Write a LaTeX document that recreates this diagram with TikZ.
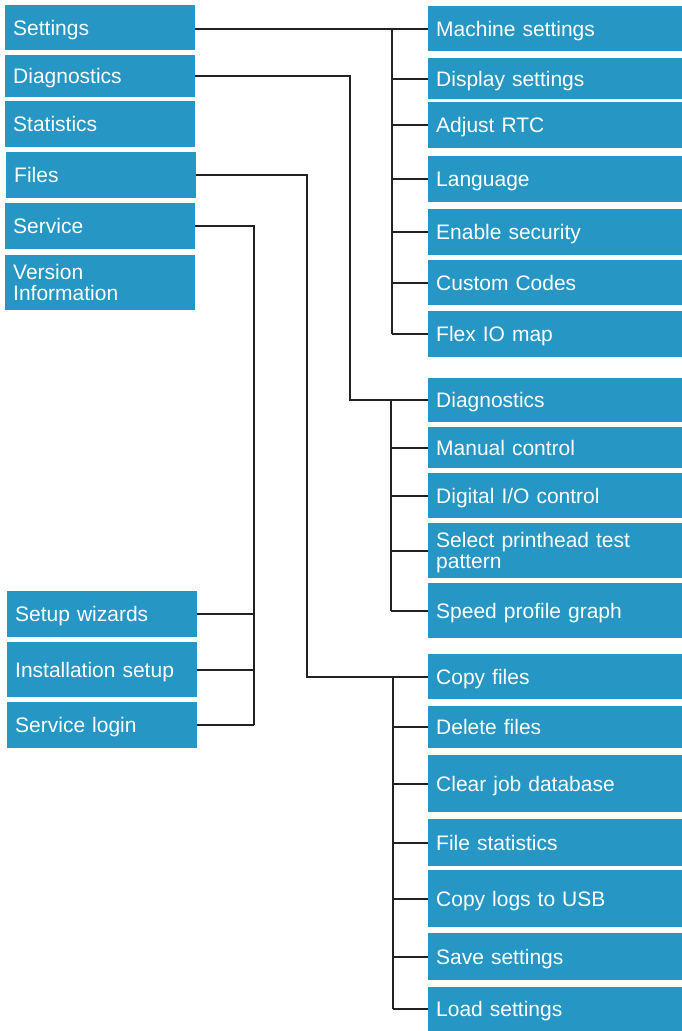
\documentclass[tikz,border=0pt]{standalone}
\usepackage{fontspec}
\setmainfont{Liberation Sans}
\definecolor{boxblue}{RGB}{38,150,196}
\definecolor{linegray}{RGB}{34,34,34}
\newcommand\sTop{\rule{0pt}{19.5pt}}
\newcommand\sBot{\rule[-4.5pt]{0pt}{4.5pt}}
\newcommand\bx[6]{%
  \pgfmathsetmacro\bxW{#4-#2}%
  \pgfmathsetmacro\bxH{#5-#3}%
  \pgfmathsetmacro\bxT{#4-#2-16}%
  \node[box,minimum width=\bxW pt,minimum height=\bxH pt,text width=\bxT pt,anchor=north west] (#1) at (#2pt,-#3pt) {#6};}
\begin{document}
\begin{tikzpicture}[
  box/.style={fill=boxblue,text=white,inner xsep=8pt,inner ysep=0pt,align=left,
    font=\fontsize{21}{21}\selectfont,
    execute at begin node=\sTop, execute at end node=\sBot},
  conn/.style={draw=linegray,line width=2.4pt}
]
\fill[white] (0,0) rectangle (682pt,-1031pt);
\useasboundingbox (0,0) rectangle (682pt,-1031pt);
% left column
\bx{settings}{5}{5}{195}{50}{Settings}
\bx{ldiag}{5}{55}{195}{97}{Diagnostics}
\bx{stats}{5}{101}{195}{147}{Statistics}
\bx{files}{6}{152}{196}{198}{Files}
\bx{service}{5}{203}{195}{249}{Service}
\bx{version}{5}{255}{195}{310}{Version\\Information}
\bx{setup}{7}{591}{197}{637}{Setup wizards}
\bx{install}{7}{642}{197}{697}{Installation setup}
\bx{login}{7}{702}{197}{748}{Service login}
% right column: settings
\bx{machine}{428}{6}{682}{51}{Machine settings}
\bx{display}{428}{58}{682}{99}{Display settings}
\bx{rtc}{428}{102}{682}{148}{Adjust RTC}
\bx{lang}{428}{156}{682}{202}{Language}
\bx{security}{428}{209}{682}{255}{Enable security}
\bx{codes}{428}{260}{682}{305}{Custom Codes}
\bx{flex}{428}{311}{682}{357}{Flex IO map}
% right column: diagnostics
\bx{rdiag}{428}{378}{682}{422}{Diagnostics}
\bx{manual}{428}{427}{682}{468}{Manual control}
\bx{digital}{428}{473}{682}{518}{Digital I/O control}
\bx{select}{428}{523}{682}{578}{Select printhead test\\pattern}
\bx{speed}{428}{583}{682}{638}{Speed profile graph}
% right column: files
\bx{copy}{428}{654}{682}{699}{Copy files}
\bx{delete}{428}{706}{682}{748}{Delete files}
\bx{clear}{428}{755}{682}{812}{Clear job database}
\bx{fstat}{428}{819}{682}{866}{File statistics}
\bx{logs}{428}{870}{682}{927}{Copy logs to USB}
\bx{save}{428}{933}{682}{980}{Save settings}
\bx{load}{428}{987}{682}{1031}{Load settings}
% bus coordinates
\coordinate (busS) at (392pt,0);
\coordinate (busD) at (391pt,0);
\coordinate (busF) at (393pt,0);
\coordinate (jogD) at (350pt,0);
\coordinate (jogF) at (307pt,0);
\coordinate (jogV) at (254pt,0);
% settings group
\draw[conn] (settings.east |- machine.west) -- (machine.west);
\draw[conn] (busS |- machine.west) -- (busS |- flex.west);
\foreach \c in {display,rtc,lang,security,codes,flex}
  \draw[conn] (busS |- \c.west) -- (\c.west);
% diagnostics group
\draw[conn] (ldiag.east) -- (jogD |- ldiag.east) -- (jogD |- rdiag.west) -- (rdiag.west);
\draw[conn] (busD |- rdiag.west) -- (busD |- speed.west);
\foreach \c in {manual,digital,select,speed}
  \draw[conn] (busD |- \c.west) -- (\c.west);
% files group
\draw[conn] (files.east) -- (jogF |- files.east) -- (jogF |- copy.west) -- (copy.west);
\draw[conn] (busF |- copy.west) -- (busF |- load.west);
\foreach \c in {delete,clear,fstat,logs,save,load}
  \draw[conn] (busF |- \c.west) -- (\c.west);
% service group
\draw[conn] (service.east) -- (jogV |- service.east) -- (jogV |- login.east);
\foreach \c in {setup,install,login}
  \draw[conn] (\c.east) -- (jogV |- \c.east);
\end{tikzpicture}
\end{document}
